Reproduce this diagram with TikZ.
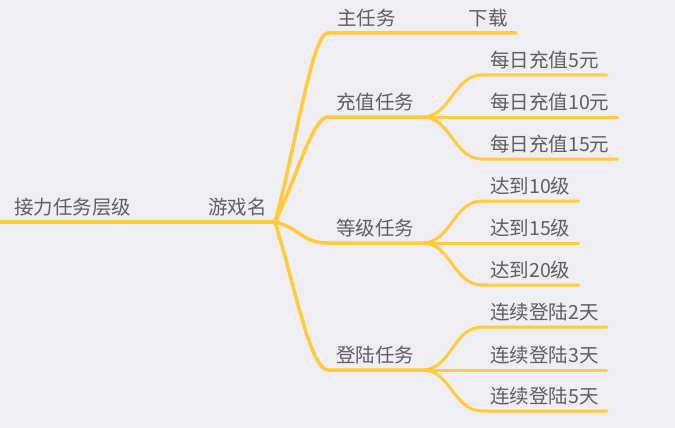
\documentclass[tikz,border=0pt]{standalone}
\usepackage{fontspec}
\setmainfont{Noto Sans CJK SC}
\usepackage{xcolor}
\usepackage{tikz}
\definecolor{mapbg}{HTML}{EFEEF3}
\definecolor{mapline}{HTML}{FFCB3A}
\definecolor{maptext}{HTML}{5F5F5F}
\tikzset{
  topic/.style={anchor=south west, inner xsep=8pt, inner ysep=4pt, text height=15pt, text depth=3pt, font=\fontsize{19.5}{21}\selectfont, text=maptext},
  branch/.style={draw=mapline, line width=3.5pt, line cap=round},
  leaf/.style={draw=mapline, line width=3pt, line cap=round}
}

\begin{document}
\begin{tikzpicture}[x=1pt, y=-1pt]
            \fill[mapbg] (0, 0) rectangle (675, 428);
            \useasboundingbox (0, 0) rectangle (675, 428);
            \coordinate (start) at (0, 222);
            \coordinate (hub) at (275, 222);
            \node[topic] (root) at (6, 222) {接力任务层级};
            \node[topic, anchor=south east] (game) at (hub) {游戏名};
            \node[topic, inner xsep=9pt] (main) at (328, 33) {主任务};
            \node[topic, anchor=south east] (dl) at (516, 33) {下载};
            \node[topic] (pay) at (328, 117) {充值任务};
            \node[topic] (lvl) at (328, 243) {等级任务};
            \node[topic] (login) at (328, 370) {登陆任务};
            \node[topic] (pay5) at (482, 75) {每日充值5元};
            \node[topic] (pay10) at (482, 117) {每日充值10元};
            \node[topic] (pay15) at (482, 159) {每日充值15元};
            \node[topic] (lvl10) at (482, 201) {达到10级};
            \node[topic] (lvl15) at (482, 243) {达到15级};
            \node[topic] (lvl20) at (482, 285) {达到20级};
            \node[topic] (day2) at (482, 327) {连续登陆2天};
            \node[topic] (day3) at (482, 370) {连续登陆3天};
            \node[topic] (day5) at (482, 411) {连续登陆5天};
            \draw[branch, line width=4pt] (start) -- (root.south east);
            \draw[branch] (root.south east) -- (game.south east);
            \draw[branch] (hub) .. controls (296, 146) and (312, 33) .. (main.south west) -- (main.south east) -- (dl.south east);
            \draw[branch] (hub) .. controls (296, 180) and (312, 117) .. (pay.south west) -- (pay.south east);
            \draw[branch] (hub) .. controls (300, 228) and (302, 243) .. (lvl.south west) -- (lvl.south east);
            \draw[branch] (hub) .. controls (294, 282) and (310, 370) .. (login.south west) -- (login.south east);
            \foreach \p/\c in {pay/pay5, pay/pay10, pay/pay15, lvl/lvl10, lvl/lvl15, lvl/lvl20, login/day2, login/day3, login/day5}
              \draw[leaf] (\p.south east) to[out=0, in=180] (\c.south west) -- (\c.south east);
        \end{tikzpicture}
\end{document}
